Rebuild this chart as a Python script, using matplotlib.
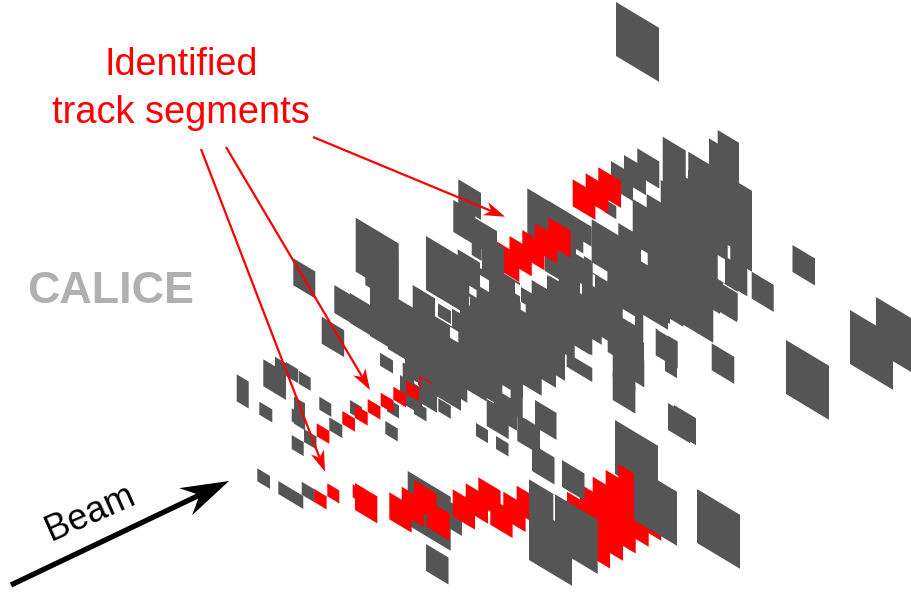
import numpy as np
import matplotlib
matplotlib.use('Agg')
import matplotlib.pyplot as plt
from matplotlib.collections import PolyCollection
from matplotlib.patches import Polygon

# calorimeter cells: x, y of upper left corner, width, height (pixels)
gray_back = [
    (616, 2, 43, 54), (786, 340, 43, 54), (850, 310, 43, 54), (876, 297, 43, 54),
    (697, 489, 43, 54), (615, 420, 43, 54), (407.7, 471, 43, 54), (437, 494, 25, 27),
    (668, 403, 22, 27), (674, 405, 22, 27), (426, 544, 22.5, 27), (532, 444, 22.5, 27),
    (476, 423, 12, 13), (496, 436, 12.5, 13), (236.7, 374.3, 12, 27), (263.3, 359.3, 22.7, 27),
    (275, 356.7, 11, 27), (286, 362, 12, 14), (298.7, 370.7, 12, 13), (259.3, 401.7, 13, 13),
    (294, 396.7, 11, 27), (291.7, 408.3, 13, 13), (291.7, 435, 12, 14), (304, 429, 12.5, 13),
    (319.3, 396.7, 12, 13), (329.3, 417.3, 13, 13), (350, 400, 12, 13), (387, 398.3, 12, 13),
    (385.3, 421, 12.5, 13), (414, 401, 12.5, 13), (438.3, 398.3, 12.5, 13), (380, 352.7, 13, 13),
    (321.7, 316.7, 22.5, 27), (402.7, 362.3, 11.6, 27), (400, 375, 22, 27), (419, 375, 18, 27),
    (257.3, 468.3, 12.7, 13), (278.3, 481, 25, 13), (301.7, 481.7, 13, 13),
    (792.5, 245, 22.5, 27), (751.7, 271.7, 22, 27), (293.3, 258.3, 22, 27),
    (711.7, 343.3, 22.6, 27), (655.7, 328.3, 22, 27), (665, 357, 12, 14),
    (612.7, 373, 22.7, 27), (622, 347, 22.3, 27), (607.7, 325, 15, 27),
    (612.7, 347, 22.7, 30), (622, 330, 22, 27),
    (355.7, 217.7, 43, 54), (365.3, 231, 33, 54), (373.3, 248, 25, 54), (334.3, 285, 43, 28),
    (350, 293, 37, 30), (370, 282, 43, 54), (388, 295, 43, 54), (426, 236, 43, 54),
    (457.7, 249.3, 22, 27), (412.7, 285, 48, 54), (405, 321, 43, 54), (418, 331, 43, 54),
    (424.3, 323, 43, 54), (443.7, 321.7, 43, 54), (486.7, 399, 22, 27), (494, 390, 23, 27),
    (430, 300, 43, 54), (500, 290, 43, 54), (490, 265, 30, 40), (540, 290, 30, 40),
    (517.3, 414, 22.7, 27), (535, 400, 21.5, 27), (480, 340, 43, 54), (498.7, 316, 43, 54),
    (513, 308, 43, 54), (522, 301, 43, 54), (566.7, 352.7, 25.6, 14), (547, 275, 43, 54),
    (558.7, 265, 43, 54), (564.7, 257, 43, 54), (600.3, 264, 43, 54), (640.3, 247, 43, 54),
    (570, 270, 30, 54), (600, 230, 43, 60), (630, 250, 40, 50), (650, 200, 43, 60),
    (458.3, 179.3, 22.7, 27), (453.3, 200, 22, 32), (475, 218, 22, 27), (471.7, 218, 10, 37),
    (482, 233, 22, 50),
    (458, 250, 22, 40), (470, 262, 43, 54), (460, 300, 43, 54), (458, 313, 43, 54),
    (527.3, 188.3, 43, 54), (548.7, 201, 43, 54), (521, 287, 43, 54), (531.7, 280, 43, 54),
    (549.3, 275.7, 43, 54), (545, 244, 22, 27), (571, 252, 43, 54), (591.7, 219.3, 43, 54),
    (618.3, 223, 43, 54), (625, 250, 43, 54), (650, 240, 43, 54), (580, 270, 43, 54),
    (604.3, 199, 12, 13), (611, 161, 22, 27), (624, 155, 22, 27), (637.3, 148.3, 22, 27),
    (662.7, 136.7, 23, 54), (688.3, 151.7, 24, 50), (709, 138.3, 22, 27), (717.7, 130, 21.3, 27),
    (660.7, 180, 43, 54), (709, 165, 43, 54), (709, 192, 43, 54), (694.7, 241, 43, 54),
    (670.3, 263, 43, 54), (725, 256, 22.3, 27), (632.7, 199, 43, 54), (646.7, 194, 43, 54),
    (670, 200, 43, 60), (680, 230, 40, 60), (700, 250, 37, 50), (688, 170, 43, 54),
    (665, 165, 30, 40), (709, 145, 30, 40), (720, 190, 32, 60), (705, 230, 42, 40),
]

red_cells = [
    (572.7, 179.3, 22.7, 27), (585.7, 173.3, 22.7, 27), (598.3, 167.3, 22.7, 27),
    (497, 241.7, 22.3, 27), (509.5, 236, 22.3, 27), (522.3, 230, 22.3, 27),
    (535, 223.3, 22.3, 27), (548.3, 217.3, 22.3, 27),
    (316.7, 423.3, 12.7, 13), (342.3, 411, 12.7, 13), (355, 405, 12.7, 13),
    (367.7, 399, 12.7, 13), (380.7, 392.7, 12.7, 13), (393.3, 386.7, 12.7, 13),
    (406, 380.7, 12.7, 13), (419, 375, 12.7, 13),
    (314.3, 489, 12.3, 13), (327.3, 483.3, 12, 13), (352.7, 484.3, 12.5, 13),
    (355, 483, 22.3, 27), (389.3, 492.3, 22.3, 27), (401.7, 486.7, 22.3, 27),
    (414, 480, 22.7, 27), (426.7, 500, 23, 27),
    (452.7, 489.3, 22.3, 27), (465.7, 483.3, 22.3, 27), (478.3, 477.3, 22.3, 27),
    (490.3, 497.7, 22.3, 27), (503.3, 491.7, 22.3, 27), (516.7, 485.7, 22.3, 27),
    (567, 491.7, 43, 51), (580, 484, 43, 51), (592.7, 476.7, 43, 51),
    (605.7, 470, 43, 51), (618.3, 464, 43, 51),
]

gray_front = [
    (482, 234, 22, 27), (562, 460, 22.5, 27), (529, 479.3, 43, 54), (529, 506, 43, 54),
    (634, 466, 43, 54), (420.5, 377.5, 13, 15),
]

# gaps between the cells
gap_cells = [
    (641, 249.3, 6.7, 12), (727.7, 245, 2.6, 13), (717.7, 255, 7.3, 24), (723, 283, 15, 1.5),
    (622.7, 309, 12.3, 9), (580, 283, 2, 10), (592.7, 262.7, 14.7, 10), (592.7, 274, 2.3, 12),
    (583.3, 241.7, 8.3, 14), (576, 249, 8, 5), (520.7, 301.7, 5, 8), (515, 282.3, 5.7, 11),
    (502.3, 385, 8.3, 8.3), (522.7, 398.3, 1.7, 19), (480, 275, 9, 11.7), (469.3, 285.7, 7.3, 7.7),
    (435, 298.3, 17, 18), (450, 326.7, 8.3, 11), (553.3, 494, 1.7, 26), (658, 329, 10, 1.3),
]

gray_top = [(438, 303.3, 13, 13), (555, 494.3, 42.7, 54)]

labels = ['Identified', 'track segments']
# start and tip of the pointers
arrow_x = [(313, 505), (226, 370), (201, 325)]
arrow_y = [(137, 216.7), (147, 390), (149, 471.7)]
beam_x = (11, 229)
beam_y = (585, 481)

slope = 0.6


def cell_polys(cells):
    polys = []
    for x, y, w, h in cells:
        polys.append([(x, y), (x + w, y + slope * w), (x + w, y + slope * w + h), (x, y + h)])
    return polys


def draw_arrow(ax, xs, ys, color, lw, length, width, notch):
    # barbed head like the drawing program gives
    tip = np.array([xs[1], ys[1]], dtype=float)
    start = np.array([xs[0], ys[0]], dtype=float)
    d = (tip - start) / np.hypot(*(tip - start))
    n = np.array([-d[1], d[0]])
    back = tip - d * length
    inner = tip - d * length * notch
    ax.plot([start[0], inner[0]], [start[1], inner[1]], color=color, lw=lw, solid_capstyle='butt', zorder=6)
    ax.add_patch(Polygon([tip, back + n * width, inner, back - n * width], closed=True,
                         fc=color, ec='none', zorder=7))


plt.rcParams['font.family'] = ['Liberation Sans', 'DejaVu Sans']
fig = plt.figure(figsize=(9.12, 5.92), dpi=100)
ax = fig.add_axes([0, 0, 1, 1])
ax.set_xlim(0, 912)
ax.set_ylim(592, 0)
ax.axis('off')

for cells, col in [(gray_back, '#555555'), (red_cells, '#ff0000'), (gray_front, '#555555'),
                   (gap_cells, 'white'), (gray_top, '#555555')]:
    ax.add_collection(PolyCollection(cell_polys(cells), facecolors=col, edgecolors='none', linewidths=0))

for xs, ys in zip(arrow_x, arrow_y):
    draw_arrow(ax, xs, ys, 'red', 1.6, 21, 7, 0.72)
draw_arrow(ax, beam_x, beam_y, 'black', 3.8, 48, 15, 0.68)

ax.text(181, 75, labels[0], color='red', fontsize=27.2, ha='center', va='baseline')
ax.text(181, 122.7, labels[1], color='red', fontsize=27.4, ha='center', va='baseline')
ax.text(110.5, 303, 'CALICE', color='#b0b0b0', fontsize=32.3, fontweight='bold', ha='center', va='baseline')
ax.text(90, 513, 'Beam', color='black', fontsize=26, rotation=24, rotation_mode='anchor', ha='center', va='center')

fig.savefig('out.png', dpi=100)
